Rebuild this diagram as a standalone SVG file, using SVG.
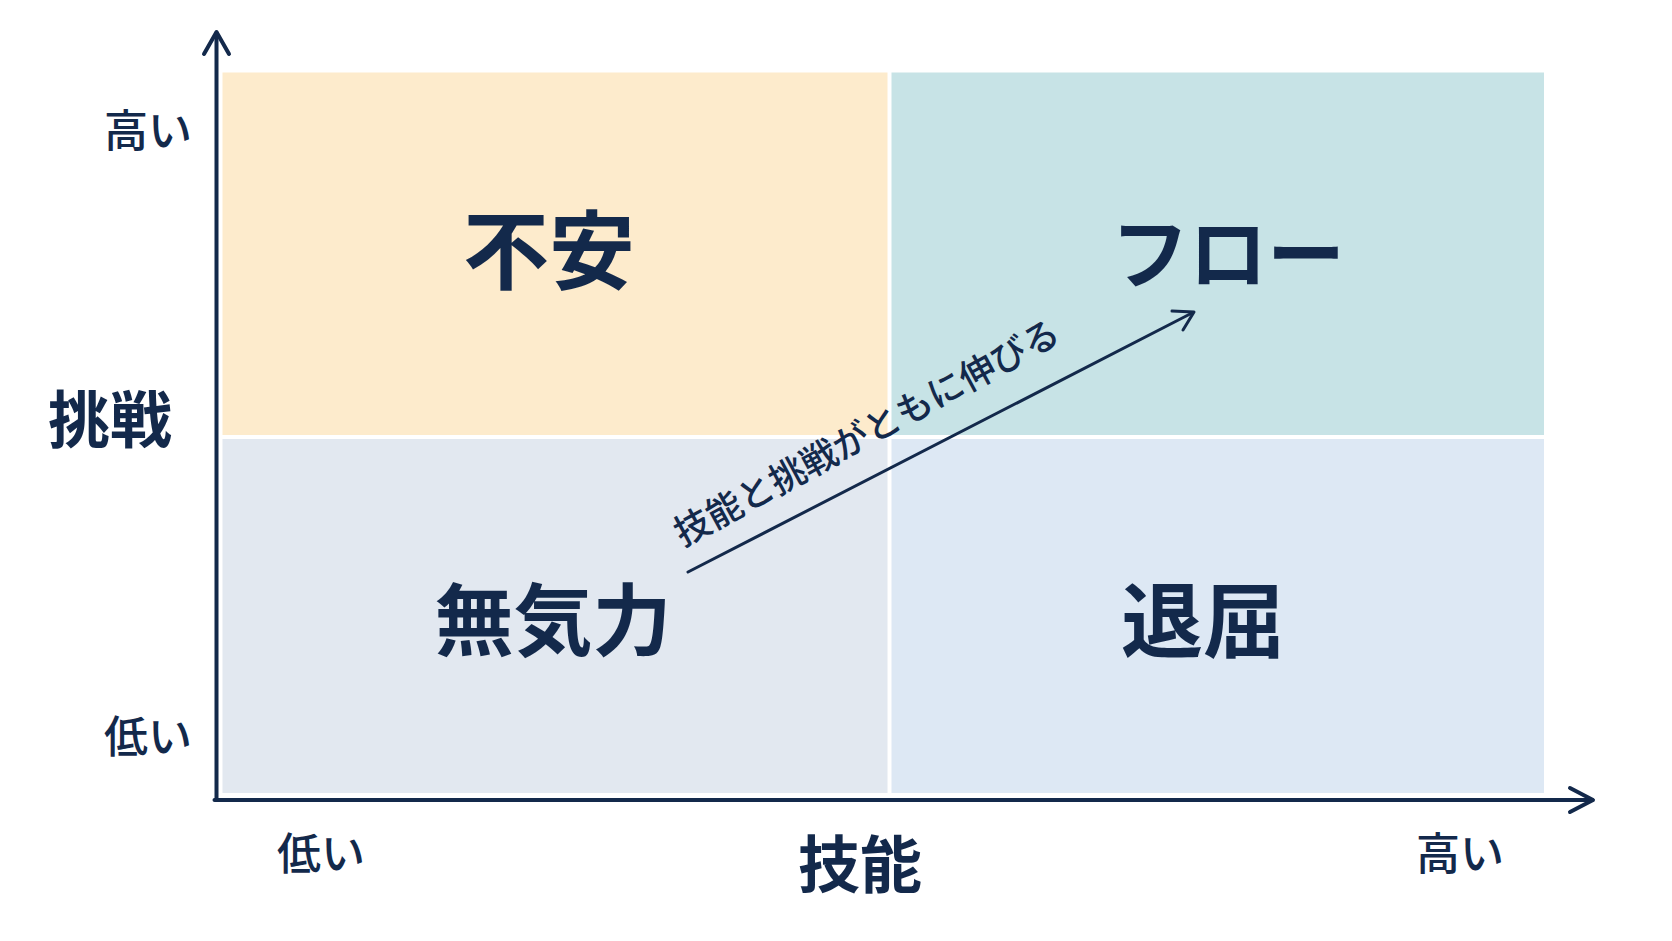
<svg xmlns="http://www.w3.org/2000/svg" width="1672" height="941" viewBox="0 0 1672 941">
  <style>
    .t { font-family: "Noto Sans CJK JP", "Noto Sans", sans-serif; fill: #13294B; text-anchor: middle; }
    .tick { font-size: 44px; font-weight: 500; }
    .axis { font-size: 62px; font-weight: 700; }
    .quad { font-size: 82px; font-weight: 700; }
    .diag { font-size: 36px; font-weight: 500; text-anchor: start; }
    .ax { stroke: #13294B; stroke-width: 4; fill: none; stroke-linecap: round; stroke-linejoin: round; }
  </style>
  <rect width="1672" height="941" fill="#ffffff"/>
  <g id="q-anxiety">
    <rect x="222.5" y="72.5" width="665" height="362.5" fill="#FDEBCC"/>
    <text class="t quad" x="549" y="283" style="font-size:86px">不安</text>
  </g>
  <g id="q-flow">
    <rect x="891.5" y="72.5" width="652.5" height="362.5" fill="#C7E3E6"/>
    <text class="t quad" x="1228" y="283" style="font-size:78px">フロー</text>
  </g>
  <g id="q-apathy">
    <rect x="222.5" y="439" width="665" height="354" fill="#E2E8F0"/>
    <text class="t quad" x="553" y="650" style="font-size:79px">無気力</text>
  </g>
  <g id="q-boredom">
    <rect x="891.5" y="439" width="652.5" height="354" fill="#DDE8F4"/>
    <text class="t quad" x="1203" y="651">退屈</text>
  </g>
  <g id="axes">
    <path class="ax" d="M216.5 800 V33"/>
    <path class="ax" d="M204 54 L216.5 32 L229 54"/>
    <path class="ax" d="M214.5 800 H1592"/>
    <path class="ax" d="M1570 788 L1593 800 L1570 812"/>
  </g>
  <g id="y-labels">
    <text class="t tick" x="148" y="147">高い</text>
    <text class="t axis" x="110" y="443">挑戦</text>
    <text class="t tick" x="148" y="753">低い</text>
  </g>
  <g id="x-labels">
    <text class="t tick" x="321" y="870">低い</text>
    <text class="t axis" x="860" y="888">技能</text>
    <text class="t tick" x="1460" y="870">高い</text>
  </g>
  <g id="connectors">
    <path class="ax" style="stroke-width:3" d="M688 572 L1192 313"/>
    <path class="ax" style="stroke-width:3" d="M1172 311 L1194 312 L1183 330"/>
  </g>
  <g id="trend-label">
    <text class="t diag" x="683" y="547" transform="rotate(-28.5 683 547)">技能と挑戦がともに伸びる</text>
  </g>
</svg>
